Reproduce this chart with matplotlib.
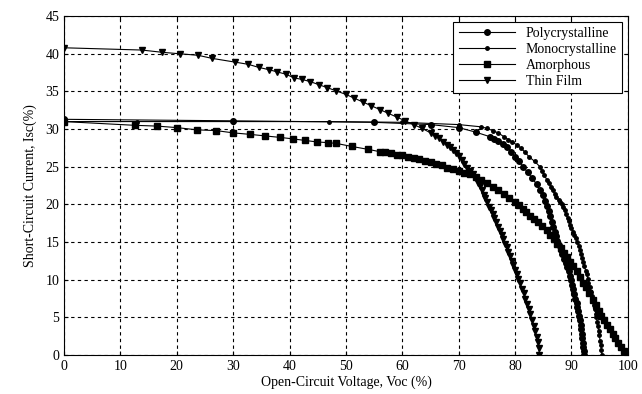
#!/usr/bin/env python
#
# I-V curves (normalised) for four PV cell technologies
#
import matplotlib
matplotlib.use("Agg")
from matplotlib import pyplot as plt

######################################################
# Data
######################################################
poly_v = [0, 30, 55, 65, 70, 73, 75.5, 76.3, 77, 77.8, 78.5, 79.3, 80, 80.7, 81.4,
          82.2, 83.0, 83.8, 84.4, 84.9, 85.3, 85.6, 86.0, 86.2, 86.5, 86.7, 87.0,
          87.3, 87.5, 87.8, 88.1, 88.4, 88.7, 89.0, 89.2, 89.5, 89.7, 89.9, 90.1,
          90.3, 90.5, 90.7, 90.9, 91.0, 91.2, 91.3, 91.5, 91.6, 91.7, 91.8, 91.9,
          92.0, 92.1, 92.15, 92.2]
poly_i = [31.3, 31.1, 30.9, 30.6, 30.2, 29.6, 29.0, 28.7, 28.4, 28.0, 27.6, 27.0,
          26.3, 25.7, 25.0, 24.3, 23.5, 22.7, 21.9, 21.2, 20.5, 19.8, 19.1, 18.4,
          17.7, 17.0, 16.4, 15.8, 15.2, 14.6, 14.0, 13.4, 12.8, 12.2, 11.7, 11.1,
          10.5, 9.9, 9.3, 8.7, 8.1, 7.5, 6.9, 6.4, 5.8, 5.2, 4.6, 4.0, 3.4, 2.8,
          2.2, 1.6, 1.0, 0.5, 0]

mono_v = [0, 13, 30, 47, 60, 70, 74, 75, 76, 77, 78, 78.8, 79.5, 80.3, 81, 81.8,
          82.5, 83.5, 84.4, 84.8, 85.2, 85.6, 86.0, 86.4, 86.7, 87.0, 87.3, 87.7,
          88.0, 88.3, 88.5, 88.8, 89.0, 89.3, 89.5, 89.8, 90.0, 90.3, 90.5, 90.8,
          91.0, 91.3, 91.5, 91.7, 91.9, 92.1, 92.3, 92.5, 92.7, 92.9, 93.0, 93.2,
          93.4, 93.6, 93.8, 94.0, 94.1, 94.3, 94.4, 94.6, 94.7, 94.8, 94.9, 95.1,
          95.2, 95.3, 95.4]
mono_i = [31.0, 31.0, 31.0, 31.0, 30.9, 30.6, 30.3, 30.1, 29.8, 29.5, 29.0, 28.6,
          28.3, 27.9, 27.5, 26.9, 26.3, 25.7, 25.0, 24.5, 23.9, 23.3, 22.8, 22.3,
          21.9, 21.4, 21.0, 20.6, 20.3, 20.0, 19.7, 19.2, 18.7, 18.2, 17.8, 17.3,
          16.9, 16.4, 16.0, 15.5, 15.0, 14.5, 14.0, 13.4, 12.9, 12.3, 11.8, 11.2,
          10.7, 10.1, 9.6, 9.0, 8.4, 7.9, 7.3, 6.7, 6.1, 5.5, 5.0, 4.4, 3.8, 3.2,
          2.6, 1.9, 1.3, 0.6, 0]

amor_v = [0, 12.6, 16.5, 20, 23.6, 27, 30, 33, 35.6, 38.3, 40.6, 42.7, 44.8, 46.8,
          48.3, 51, 54, 56, 57, 58, 59, 60, 61, 62, 63, 64, 65, 66, 67, 68, 69, 70,
          71, 72, 73, 74, 75, 76, 77, 78, 79, 80, 80.7, 81.4, 82, 82.7, 83.4, 84,
          84.8, 85.6, 86.2, 86.9, 87.5, 88.1, 88.7, 89.2, 89.8, 90.3, 90.9, 91.5,
          92, 92.5, 93.1, 93.8, 94.3, 94.8, 95.3, 95.8, 96.3, 96.8, 97.3, 97.8,
          98.3, 98.8, 99.3, 99.8]
amor_i = [31.0, 30.5, 30.4, 30.2, 29.9, 29.8, 29.5, 29.3, 29.1, 28.9, 28.7, 28.5,
          28.3, 28.2, 28.1, 27.7, 27.3, 27.0, 26.9, 26.8, 26.6, 26.5, 26.3, 26.2,
          26.0, 25.8, 25.6, 25.4, 25.2, 24.9, 24.7, 24.5, 24.2, 24.0, 23.6, 23.2,
          22.8, 22.3, 21.9, 21.4, 20.9, 20.3, 19.9, 19.4, 19.0, 18.5, 18.0, 17.7,
          17.1, 16.6, 16.0, 15.4, 14.8, 14.2, 13.6, 13.0, 12.4, 11.8, 11.1, 10.4,
          9.6, 9.0, 8.2, 7.3, 6.6, 5.9, 5.2, 4.6, 4.0, 3.4, 2.8, 2.2, 1.6, 1.0,
          0.5, 0]

thin_v = [0, 13.8, 17.4, 20.6, 23.8, 26.2, 30.3, 32.7, 34.5, 36.3, 37.8, 39.3,
          40.8, 42.2, 43.7, 45.2, 46.7, 48.2, 50, 51.5, 53, 54.5, 56, 57.5, 59,
          60.5, 62, 63.5, 65, 65.8, 66.5, 67.3, 68, 68.5, 69, 69.5, 70, 70.5, 71,
          71.5, 72, 72.5, 73, 73.4, 73.7, 74.1, 74.4, 74.7, 75, 75.4, 75.7, 76,
          76.3, 76.7, 77, 77.3, 77.6, 77.9, 78.2, 78.5, 78.8, 79.1, 79.4, 79.7, 80,
          80.3, 80.6, 80.9, 81.2, 81.5, 81.8, 82.1, 82.4, 82.7, 83, 83.3, 83.5,
          83.8, 84, 84.2, 84.3]
thin_i = [40.8, 40.5, 40.2, 40.0, 39.8, 39.4, 38.9, 38.6, 38.2, 37.9, 37.6, 37.3,
          36.8, 36.6, 36.3, 35.9, 35.5, 35.1, 34.6, 34.1, 33.6, 33.1, 32.6, 32.1,
          31.6, 31.1, 30.6, 30.1, 29.5, 29.1, 28.8, 28.3, 27.9, 27.6, 27.2, 26.8,
          26.4, 25.9, 25.4, 24.9, 24.5, 24.0, 23.5, 22.9, 22.5, 21.9, 21.3, 20.8,
          20.3, 19.7, 19.2, 18.7, 18.2, 17.6, 17.0, 16.5, 15.9, 15.4, 14.8, 14.3,
          13.7, 13.1, 12.5, 11.9, 11.3, 10.7, 10.1, 9.5, 8.8, 8.2, 7.5, 6.8, 6.1,
          5.4, 4.6, 3.9, 3.2, 2.4, 1.7, 0.9, 0]

######################################################
# Plot
######################################################
matplotlib.rcParams['font.family'] = 'Liberation Serif'
matplotlib.rcParams['font.size'] = 10

fig = plt.figure(figsize=(6.42, 3.94), dpi=100)
ax = fig.add_axes([0.0997, 0.099, 0.8783, 0.860])

ax.plot(poly_v, poly_i, 'k-', marker='o', ms=4, lw=0.8, label='Polycrystalline')
ax.plot(mono_v, mono_i, 'k-', marker='.', ms=5, lw=0.8, label='Monocrystalline')
ax.plot(amor_v, amor_i, 'k-', marker='s', ms=3.8, lw=0.8, label='Amorphous')
ax.plot(thin_v, thin_i, 'k-', marker='v', ms=4, lw=0.8, label='Thin Film')

ax.set_xlim((0, 100))
ax.set_ylim((0, 45))
ax.set_xticks(range(0, 101, 10))
ax.set_yticks(range(0, 46, 5))
ax.grid(True, color='k', linestyle=(0, (3, 3)), linewidth=0.8)
ax.tick_params(direction='in', top=True, right=True, length=3)
ax.set_xlabel("Open-Circuit Voltage, Voc (%)", labelpad=2)
ax.set_ylabel("Short-Circuit Current, Isc(%)", labelpad=6)

leg = ax.legend(loc='upper right', fancybox=False, edgecolor='k', framealpha=1,
                borderaxespad=0.4, handlelength=4, labelspacing=0.2, fontsize=10)
leg.get_frame().set_linewidth(0.8)

fig.savefig("out.png")
